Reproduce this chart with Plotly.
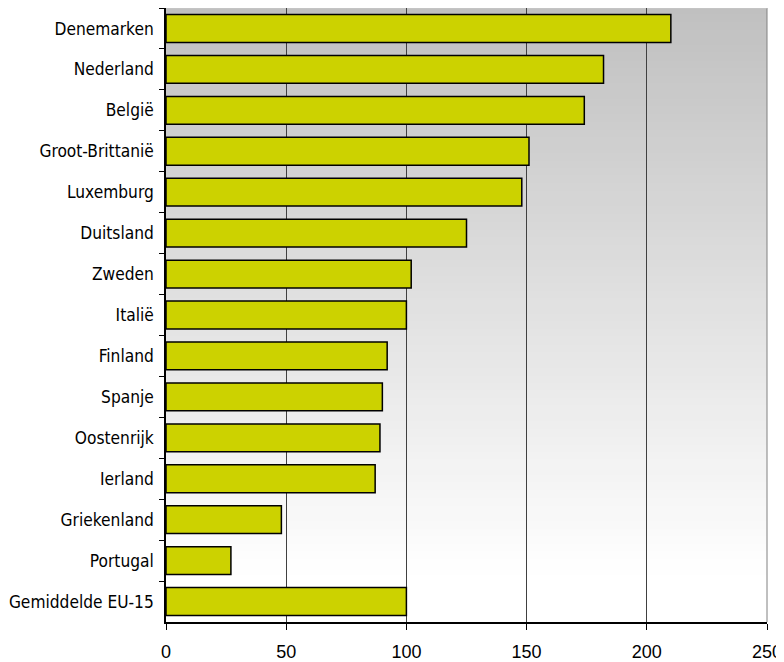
import plotly.graph_objects as go

countries = ["Denemarken", "Nederland", "België", "Groot-Brittanië", "Luxemburg",
             "Duitsland", "Zweden", "Italië", "Finland", "Spanje", "Oostenrijk",
             "Ierland", "Griekenland", "Portugal", "Gemiddelde EU-15"]
values = [210, 182, 174, 151, 148, 125, 102, 100, 92, 90, 89, 87, 48, 27, 100]
x_ticks = [0, 50, 100, 150, 200, 250]

fig = go.Figure()
fig.add_trace(go.Bar(
    y=countries, x=values, orientation="h",
    marker=dict(color="#CCD200", line=dict(color="#000000", width=1.5)),
    width=0.68,
))

# vertical gradient background (gray top -> white bottom)
shapes = []
n = 80
for i in range(n):
    t = i / n
    v = int(round(192 + min(1.0, t / 0.92) * 63))
    shapes.append(dict(type="rect", xref="x domain", yref="y domain",
                       x0=0, x1=1, y0=1 - (i + 1) / n, y1=1 - i / n + 0.002,
                       fillcolor=f"rgb({v},{v},{v})", line=dict(width=0), layer="below"))
shapes.append(dict(type="line", xref="x domain", yref="y domain", x0=1, x1=1, y0=0, y1=1,
                   line=dict(color="#808080", width=1), layer="below"))
shapes.append(dict(type="line", xref="x domain", yref="y domain", x0=0, x1=1, y0=1, y1=1,
                   line=dict(color="#C8C8C8", width=1), layer="below"))

fig.update_layout(
    width=776, height=654,
    margin=dict(l=158, r=17, t=0, b=40),
    paper_bgcolor="white", plot_bgcolor="rgba(0,0,0,0)",
    shapes=shapes, showlegend=False,
    font=dict(family="Liberation Sans, Arial, sans-serif", color="#000000"),
)
fig.update_xaxes(
    range=[0, 250], tickvals=x_ticks, ticktext=[str(v) for v in x_ticks],
    showgrid=True, gridcolor="#404040", gridwidth=1,
    showline=True, linecolor="#000000", linewidth=1.5,
    ticks="outside", ticklen=6, tickcolor="#000000",
    tickfont=dict(size=18, family="Liberation Sans, Arial, sans-serif"), zeroline=False,
    automargin=False, ticklabelstandoff=7,
)
fig.update_yaxes(
    autorange="reversed", categoryorder="array", categoryarray=countries,
    showline=True, linecolor="#000000", linewidth=1.5,
    ticks="outside", ticklen=5, tickcolor="#000000", tickson="boundaries",
    tickfont=dict(size=17.2, family="DejaVu Sans Condensed, Liberation Sans, sans-serif"),
    showgrid=False, automargin=False, ticklabelstandoff=7,
)
fig.write_html("out.html")
